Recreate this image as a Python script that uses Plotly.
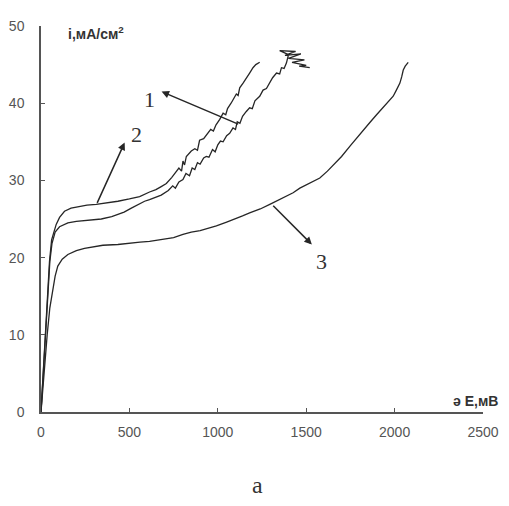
import plotly.graph_objects as go

# Curve 1 (E, mV ; i, mA/cm2)
e1 = [0, 10, 20, 30, 40, 50, 62, 80, 105, 152, 200, 246, 300, 341, 400, 435, 470, 511, 550, 586,
      614, 650, 680, 720, 745, 760, 780, 803, 820, 840, 855, 870, 885, 900, 920, 935, 950, 970, 985,
      1000, 1015, 1030, 1050, 1067, 1086, 1100, 1110, 1125, 1140, 1160, 1180, 1195, 1210, 1237, 1256,
      1275, 1290, 1310, 1332, 1350, 1360, 1375, 1388,
      1400, 1350, 1440, 1380, 1470, 1400, 1490, 1420, 1500, 1460, 1520]
i1 = [0, 4, 8, 12.5, 16.5, 19.5, 21.8, 23.3, 24.0, 24.5, 24.7, 24.8, 24.9, 25.0, 25.3, 25.6, 25.9, 26.4, 26.9, 27.3,
      27.5, 27.8, 28.1, 28.7, 29.3, 29.0, 29.8, 30.1, 30.9, 30.6, 31.6, 31.4, 32.3, 32.1, 32.9, 33.1, 33.0, 34.0, 33.7,
      34.6, 35.1, 35.0, 35.8, 36.1, 36.8, 36.6, 37.6, 37.4, 38.3, 38.9, 39.4, 39.3, 40.3, 40.9, 41.7,
      41.9, 42.5, 43.3, 43.9, 43.8, 44.6, 44.5, 45.2,
      46.3, 46.8, 46.7, 46.2, 46.4, 45.8, 45.6, 45.3, 44.9, 44.8, 44.6]

# Curve 2
e2 = [0, 8, 18, 28, 38, 48, 60, 75, 86, 105, 133, 170, 208, 260, 312, 380, 435, 500, 558, 614, 650, 680,
      709, 740, 760, 780, 795, 803, 812, 822, 850, 870, 885, 897, 920, 935, 960, 975, 990, 1011, 1030, 1045,
      1055, 1075, 1086, 1105, 1115, 1124, 1143, 1165, 1180, 1199, 1215, 1237]
i2 = [0, 3, 7, 11, 15.5, 19.5, 22.3, 23.6, 24.3, 25.2, 26.0, 26.4, 26.6, 26.8, 26.9, 27.1, 27.3, 27.6, 27.9, 28.5, 28.8, 29.2,
      29.6, 30.4, 31.0, 31.6, 31.2, 32.5, 32.0, 33.1, 33.8, 34.1, 33.9, 35.2, 35.4, 35.8, 36.6, 36.4, 37.2, 37.9, 38.7, 38.5,
      39.3, 40.0, 40.5, 41.2, 41.0, 42.0, 42.6, 43.3, 43.9, 44.6, 45.0, 45.3]

# Curve 3
e3 = [0, 8, 20, 35, 50, 67, 80, 95, 120, 152, 200, 246, 300, 350, 435, 500, 560, 614, 699, 750, 803, 850,
      900, 950, 992, 1050, 1100, 1140, 1180, 1240, 1294, 1350, 1400, 1426, 1464, 1520, 1577, 1620, 1652,
      1700, 1750, 1785, 1820, 1860, 1898, 1940, 1970, 1992, 2010, 2030, 2040, 2049, 2060, 2077]
i3 = [0, 2.5, 6, 10, 13.5, 15.8, 17.6, 18.9, 19.8, 20.4, 20.9, 21.2, 21.4, 21.6, 21.7, 21.9, 22.0, 22.1, 22.4, 22.6, 23.0, 23.3,
      23.5, 23.8, 24.1, 24.6, 25.0, 25.4, 25.8, 26.3, 26.9, 27.5, 28.1, 28.4, 29.0, 29.6, 30.3, 31.2, 32.0,
      33.1, 34.5, 35.5, 36.4, 37.5, 38.5, 39.6, 40.3, 40.9, 41.7, 42.6, 43.4, 44.3, 44.8, 45.3]

x_ticks = [0, 500, 1000, 1500, 2000, 2500]
y_ticks = [0, 10, 20, 30, 40, 50]

line_style = dict(color="#262626", width=1.3)

fig = go.Figure()
for e, i in [(e1, i1), (e2, i2), (e3, i3)]:
    fig.add_trace(go.Scatter(x=e, y=i, mode="lines", line=line_style, showlegend=False))

axis_common = dict(showline=True, linecolor="#555", linewidth=1.5, ticks="inside", ticklen=4,
                   tickcolor="#555", tickwidth=1, showgrid=False, zeroline=False, automargin=False,
                   tickfont=dict(family="Liberation Sans, Arial", size=14, color="#555"))

fig.update_xaxes(range=[0, 2500], tickvals=x_ticks, ticklabelstandoff=6, **axis_common)
fig.update_yaxes(range=[0, 50], tickvals=y_ticks, ticklabelstandoff=12, **axis_common)

serif = dict(family="Liberation Serif, Times New Roman", size=22, color="#333")
ann = []
# curve labels
ann.append(dict(x=614, y=40.5, xref="x", yref="y", text="1", showarrow=False, font=serif))
ann.append(dict(x=541, y=35.9, xref="x", yref="y", text="2", showarrow=False, font=serif))
ann.append(dict(x=1587, y=19.5, xref="x", yref="y", text="3", showarrow=False, font=serif))
# arrows (head near the label, tail on the curve)
for (hx, hy, tx, ty) in [(682, 41.5, 1124, 37.2), (473, 34.9, 314, 26.9), (1532, 21.7, 1305, 26.9)]:
    ann.append(dict(x=hx, y=hy, xref="x", yref="y", ax=tx, ay=ty, axref="x", ayref="y",
                    text="", showarrow=True, arrowhead=2, arrowsize=1, arrowwidth=1.5,
                    arrowcolor="#262626"))
# axis titles
ann.append(dict(x=139, y=49.1, xref="x", yref="y", xanchor="left", yanchor="middle",
                text="<b>i,мА/см<sup>2</sup></b>", showarrow=False,
                font=dict(family="Liberation Sans, Arial", size=14, color="#333")))
ann.append(dict(x=1.038, y=0.028, xref="paper", yref="paper", xanchor="right", yanchor="middle",
                text="<b>ә E,мВ</b>", showarrow=False,
                font=dict(family="Liberation Sans, Arial", size=14, color="#333")))
ann.append(dict(x=1226, y=-0.19, xref="x", yref="paper", yanchor="middle", text="a", showarrow=False,
                font=dict(family="Liberation Serif, Times New Roman", size=24, color="#333")))

fig.update_layout(width=509, height=506, margin=dict(l=41, r=26, t=26, b=94),
                  paper_bgcolor="white", plot_bgcolor="white", annotations=ann)

fig.write_html("out.html", config={"displayModeBar": False},
               post_script="document.body.style.margin='0';")
